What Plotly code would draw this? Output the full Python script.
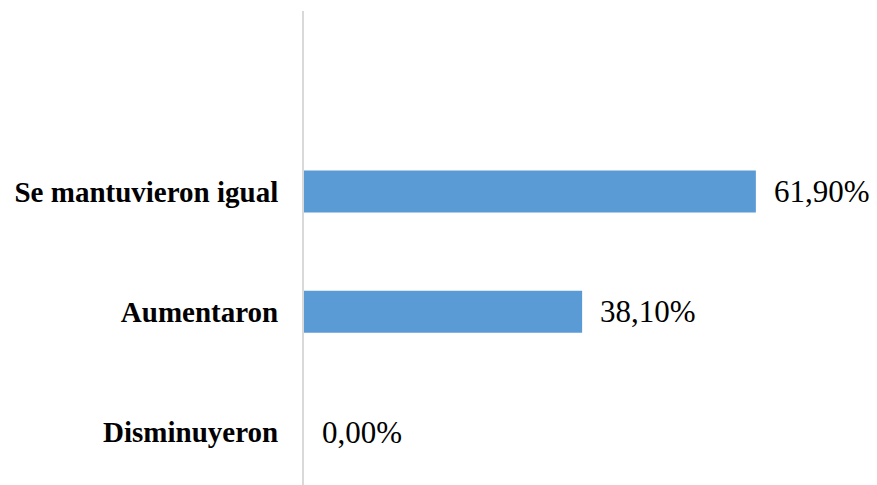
import plotly.graph_objects as go

categories = ["Disminuyeron", "Aumentaron", "Se mantuvieron igual"]
values = [0.0, 38.10, 61.90]
value_labels = ["0,00%", "38,10%", "61,90%"]

SERIF = "Times New Roman, Liberation Serif, Tinos, DejaVu Serif, serif"

fig = go.Figure()
fig.add_trace(go.Bar(
    x=values, y=categories, orientation="h",
    marker=dict(color="#5b9bd5", line=dict(width=0)),
    hoverinfo="skip",
))

for v, c, t in zip(values, categories, value_labels):
    fig.add_annotation(x=v, y=c, text=t, showarrow=False, xanchor="left",
                       yanchor="middle", xshift=16,
                       font=dict(family=SERIF, size=31, color="#000000"))

fig.update_layout(
    width=869, height=477,
    margin=dict(l=296, r=62, t=3, b=0),
    paper_bgcolor="white", plot_bgcolor="white",
    bargap=0.65, showlegend=False,
    xaxis=dict(range=[0, 70], visible=False, showgrid=False, zeroline=False),
    yaxis=dict(type="category", categoryorder="array", categoryarray=categories,
               range=[-0.44, 3.5], showgrid=False, zeroline=False,
               showline=True, linecolor="#d9d9d9", linewidth=2,
               ticks="", ticklabelstandoff=18,
               tickfont=dict(family=SERIF, size=29, color="#000000", weight="bold")),
)

fig.write_html("out.html")
